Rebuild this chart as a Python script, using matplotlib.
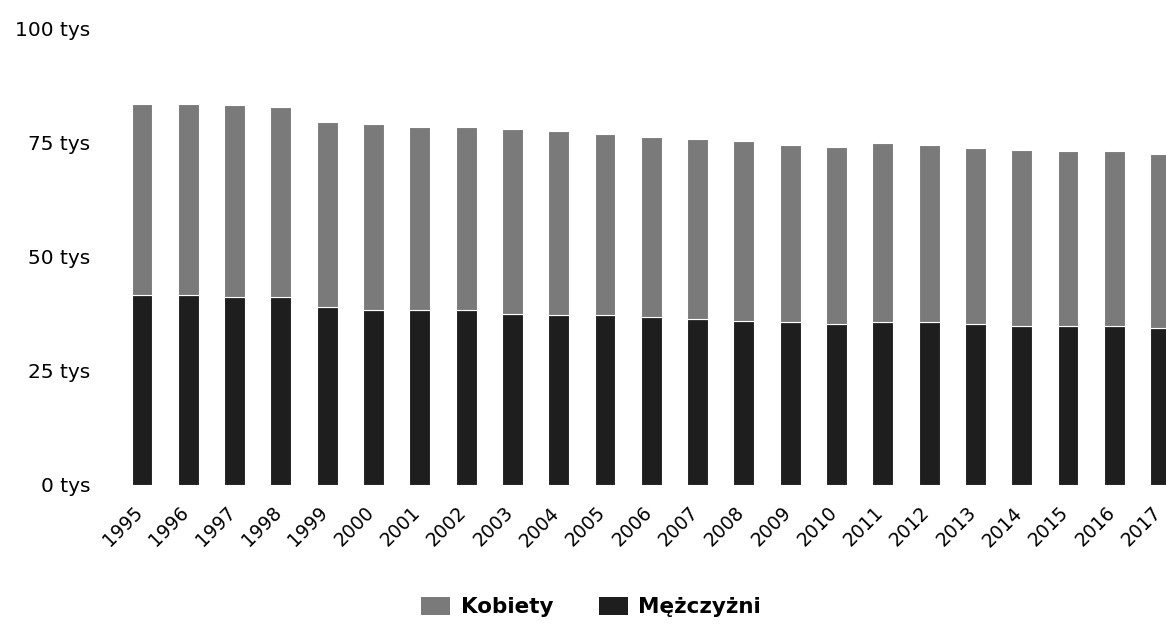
import matplotlib
matplotlib.use("Agg")
import matplotlib.pyplot as plt
from matplotlib.patches import Patch
from matplotlib.transforms import ScaledTranslation

years = [str(y) for y in range(1995, 2018)]
men = [41.6, 41.6, 41.2, 41.2, 39.0, 38.3, 38.3, 38.2, 37.5, 37.3, 37.2, 36.8,
       36.4, 35.9, 35.6, 35.3, 35.7, 35.6, 35.2, 34.8, 34.8, 34.8, 34.4]
total = [83.3, 83.3, 83.1, 82.7, 79.4, 79.0, 78.3, 78.3, 77.8, 77.5, 76.7, 76.2,
         75.8, 75.3, 74.4, 74.0, 74.9, 74.5, 73.8, 73.3, 73.1, 73.1, 72.5]
women = [round(t - m, 1) for t, m in zip(total, men)]
ytick_vals = [0, 25, 50, 75, 100]
ytick_labels = ["0 tys", "25 tys", "50 tys", "75 tys", "100 tys"]
legend_labels = ["Kobiety", "Mężczyżni"]

W, H = 1166, 625
fig = plt.figure(figsize=(W / 100, H / 100), dpi=100)
plt.rcParams['font.family'] = ['DejaVu Sans']

left_px, right_px, bottom_px, top_px = 110, 1166, 485, 28
ax = fig.add_axes([left_px / W, 1 - bottom_px / H,
                   (right_px - left_px) / W, (bottom_px - top_px) / H])

men_color = '#1e1e1e'
women_color = '#7a7a7a'
x = list(range(len(years)))
ax.bar(x, men, width=0.45, color=men_color, edgecolor='white', linewidth=0.8)
ax.bar(x, women, bottom=men, width=0.45, color=women_color, edgecolor='white', linewidth=0.8)

ax.set_xlim(-0.691, 22.117)
ax.set_ylim(0, 100)
for s in ax.spines.values():
    s.set_visible(False)
ax.set_yticks(ytick_vals)
ax.set_yticklabels(ytick_labels, fontsize=14.5)
ax.set_xticks(x)
ax.set_xticklabels(years, rotation=45, ha='right', rotation_mode='anchor', fontsize=13.5)
ax.tick_params(axis='both', length=0)
ax.tick_params(axis='y', pad=14)
ax.tick_params(axis='x', pad=11)
off = ScaledTranslation(-9 / 100, -3 / 100, fig.dpi_scale_trans)
for lbl in ax.get_xticklabels():
    lbl.set_transform(lbl.get_transform() + off)

handles = [Patch(facecolor=women_color, edgecolor='none'),
           Patch(facecolor=men_color, edgecolor='none')]
fig.legend(handles, legend_labels, loc='center', bbox_to_anchor=(0.507, 0.029),
           ncol=2, frameon=False, prop={'weight': 'bold', 'size': 15.5},
           handlelength=1.35, handleheight=0.95, columnspacing=2.1,
           handletextpad=0.5, borderpad=0.2)

fig.savefig('out.png', dpi=100)
